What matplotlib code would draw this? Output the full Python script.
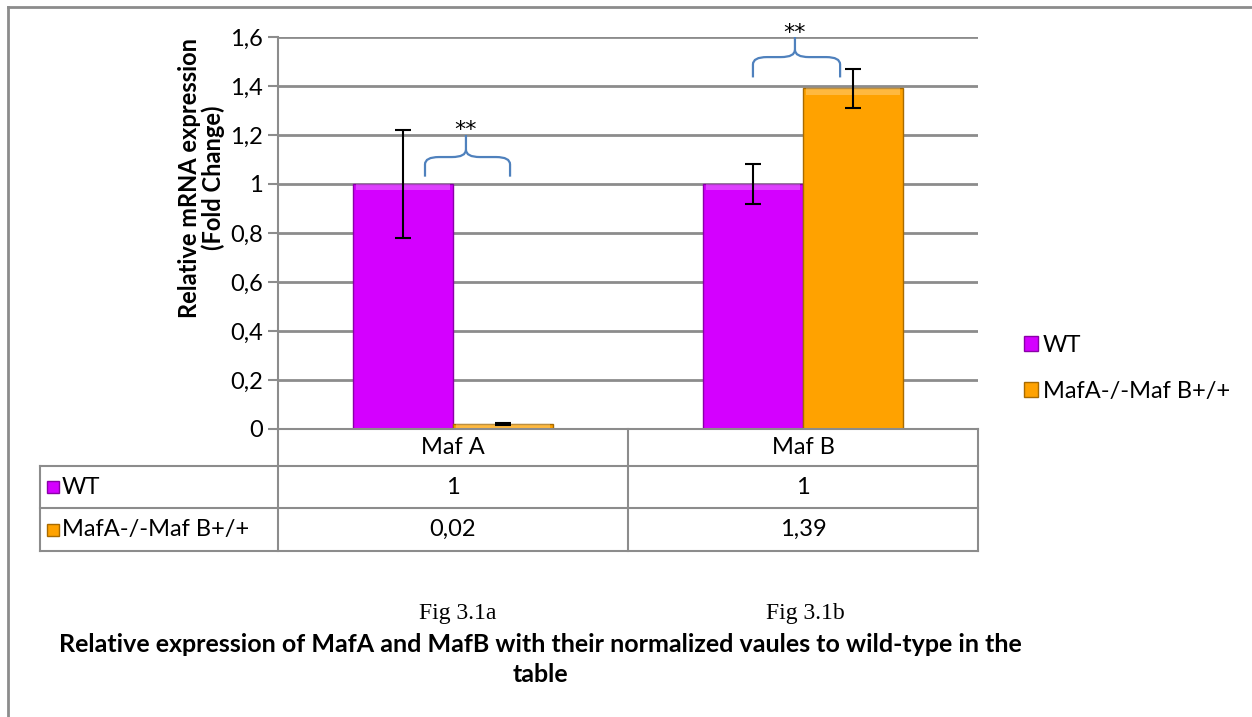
import numpy as np
import matplotlib.pyplot as plt
from matplotlib.path import Path
from matplotlib.patches import PathPatch, Rectangle
from matplotlib.lines import Line2D

# data
categories = ['Maf A', 'Maf B']
series = ['WT', 'MafA-/-Maf B+/+']
wt_vals = [1.0, 1.0]
mut_vals = [0.02, 1.39]
wt_err = [0.22, 0.08]
mut_err = [0.005, 0.08]
yticks = [0, 0.2, 0.4, 0.6, 0.8, 1.0, 1.2, 1.4, 1.6]

colors = ['#D400FF', '#FFA200']
edges = ['#8A00A8', '#A86A00']
FONT = 'Lato'
FS = 17
W, H = 1252, 717

plt.rcParams['font.family'] = [FONT, 'DejaVu Sans']

fig = plt.figure(figsize=(W / 100, H / 100), dpi=100)


def fx(px):
    return px / W


def fy(py):
    return 1 - py / H


ax = fig.add_axes([fx(278), fy(429), fx(978) - fx(278), fy(37) - fy(429)])
x = np.arange(len(categories))
bw = 100 / 350
for i, (vals, errs) in enumerate([(wt_vals, wt_err), (mut_vals, mut_err)]):
    pos = x + (i - 0.5) * bw
    ax.bar(pos, vals, bw, color=colors[i], edgecolor=edges[i], linewidth=1.0,
           zorder=3)
    # lighter bevel at top
    ax.bar(pos, [min(0.025, v) for v in vals], bw * 0.94,
           bottom=[v - min(0.025, v) for v in vals], color='white', alpha=0.25,
           linewidth=0, zorder=4)
    ax.errorbar(pos, vals, yerr=errs, fmt='none', ecolor='black',
                elinewidth=1.5, capsize=6, capthick=1.5, zorder=5)

ax.set_xlim(-0.5, 1.5)
ax.set_ylim(0, 1.6)
ax.set_yticks(yticks)
ax.set_yticklabels([('%g' % t).replace('.', ',') for t in yticks],
                   fontsize=FS)
ax.set_xticks([])
ax.yaxis.grid(True, color='#8c8c8c', linewidth=2)
ax.set_axisbelow(True)
for s in ['top', 'right', 'bottom']:
    ax.spines[s].set_visible(False)
ax.spines['left'].set_color('#8c8c8c')
ax.spines['left'].set_linewidth(1.5)
ax.tick_params(axis='y', length=7, color='#8c8c8c', width=1.5, pad=4)
ax.set_ylabel('Relative mRNA expression\n(Fold Change)', fontsize=FS,
              fontweight='bold', linespacing=1.0)
ax.yaxis.set_label_coords(-0.076, 0.64)


def brace(x0, x1, xt, yb, ym, yt):
    r = 0.04
    rv = 0.03
    verts = [(x0, yb), (x0, ym - rv), (x0, ym), (x0 + r, ym),
             (xt - r, ym), (xt, ym), (xt, ym + rv), (xt, yt),
             (xt, ym + rv), (xt, ym), (xt + r, ym),
             (x1 - r, ym), (x1, ym), (x1, ym - rv), (x1, yb)]
    codes = [Path.MOVETO, Path.LINETO, Path.CURVE3, Path.CURVE3,
             Path.LINETO, Path.CURVE3, Path.CURVE3, Path.LINETO,
             Path.MOVETO, Path.CURVE3, Path.CURVE3,
             Path.LINETO, Path.CURVE3, Path.CURVE3, Path.LINETO]
    ax.add_patch(PathPatch(Path(verts, codes), fill=False, edgecolor='#4F81BD',
                           linewidth=1.6, clip_on=False, zorder=6))


brace(-0.08, 0.163, 0.037, 1.03, 1.11, 1.2)
ax.text(0.037, 1.18, '**', ha='center', va='bottom', fontsize=16,
        fontfamily='DejaVu Sans')
brace(0.857, 1.106, 0.977, 1.435, 1.518, 1.6)
ax.text(0.977, 1.575, '**', ha='center', va='bottom', fontsize=16,
        fontfamily='DejaVu Sans', clip_on=False)

# legend on the right
handles = [Rectangle((0, 0), 1, 1, facecolor=colors[i], edgecolor=edges[i])
           for i in range(2)]
fig.legend(handles, series, loc='upper left',
           bbox_to_anchor=(fx(1003), fy(314)), frameon=False, fontsize=FS,
           handlelength=0.6, handleheight=0.6, handletextpad=0.2,
           labelspacing=1.03)

# data table under the axis
gc = '#8c8c8c'
lw = 1.5
col_x = [40, 278, 628, 978]
row_y = [429, 466, 508, 551]


def hline(xa, xb, yy):
    fig.add_artist(Line2D([fx(xa), fx(xb)], [fy(yy), fy(yy)], color=gc, lw=lw))


def vline(xx, ya, yb):
    fig.add_artist(Line2D([fx(xx), fx(xx)], [fy(ya), fy(yb)], color=gc, lw=lw))


hline(col_x[1], col_x[3], row_y[0])
for yy in row_y[1:]:
    hline(col_x[0], col_x[3], yy)
vline(col_x[0], row_y[1], row_y[3])
for xx in col_x[1:]:
    vline(xx, row_y[0], row_y[3])

for j, cat in enumerate(categories):
    cx = (col_x[j + 1] + col_x[j + 2]) / 2
    fig.text(fx(cx), fy((row_y[0] + row_y[1]) / 2), cat, ha='center',
             va='center', fontsize=FS)
rows = [wt_vals, mut_vals]
for i, vals in enumerate(rows):
    cy = (row_y[i + 1] + row_y[i + 2]) / 2
    fig.add_artist(Rectangle((fx(47), fy(cy + 6)), fx(12), fy(0) - fy(12),
                             facecolor=colors[i], edgecolor=edges[i], lw=1))
    fig.text(fx(62), fy(cy), series[i], ha='left', va='center', fontsize=FS)
    for j, v in enumerate(vals):
        cx = (col_x[j + 1] + col_x[j + 2]) / 2
        fig.text(fx(cx), fy(cy), ('%g' % v).replace('.', ','), ha='center',
                 va='center', fontsize=FS)

# captions
fig.text(fx(458), fy(613), 'Fig 3.1a', ha='center', va='center', fontsize=17,
         fontfamily='Liberation Serif')
fig.text(fx(805), fy(613), 'Fig 3.1b', ha='center', va='center', fontsize=17,
         fontfamily='Liberation Serif')
fig.text(fx(540), fy(645),
         'Relative expression of MafA and MafB with their normalized vaules '
         'to wild-type in the', ha='center', va='center', fontsize=18,
         fontweight='bold')
fig.text(fx(540), fy(675), 'table', ha='center', va='center', fontsize=18,
         fontweight='bold')

# outer frame
fig.add_artist(Line2D([fx(8), fx(1252)], [fy(7), fy(7)], color='#8c8c8c', lw=2))
fig.add_artist(Line2D([fx(8), fx(8)], [fy(7), fy(717)], color='#8c8c8c', lw=2))

fig.savefig('out.png', dpi=100)
